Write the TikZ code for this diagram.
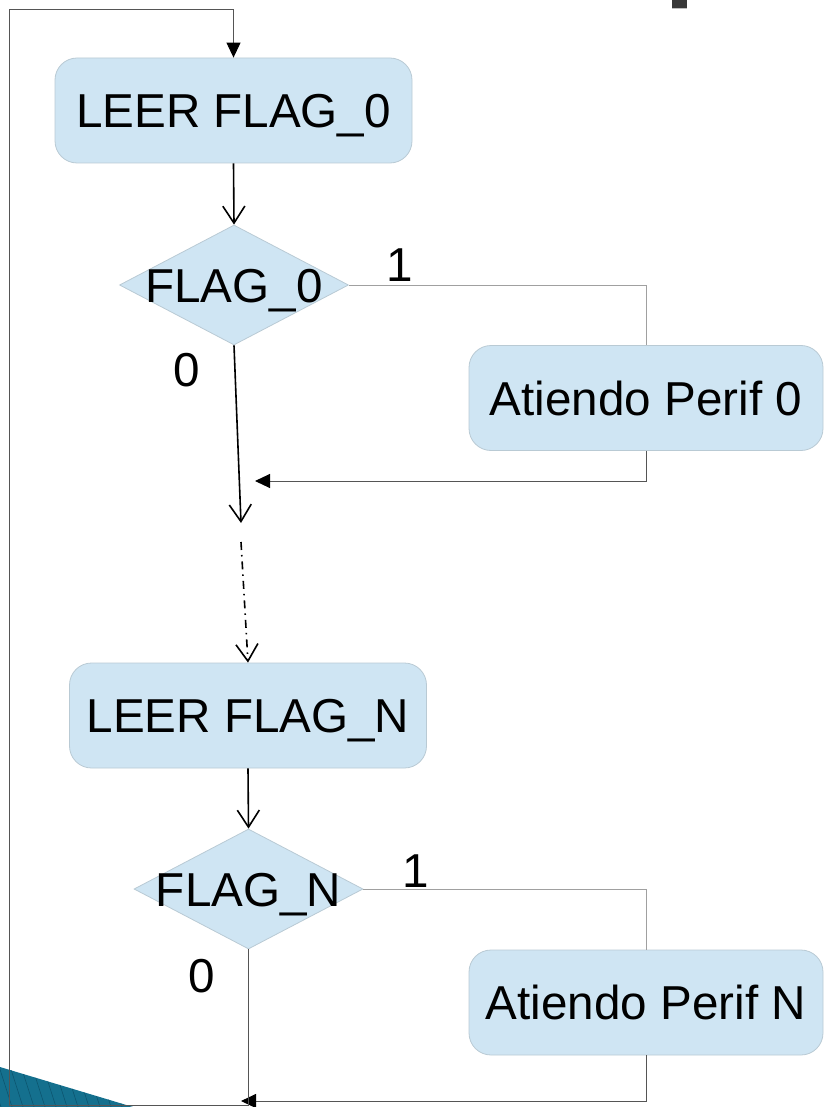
\documentclass[tikz,border=0pt]{standalone}
\usepackage{fontspec}
\setmainfont{Liberation Sans}
\usetikzlibrary{arrows.meta,shapes.geometric}

\definecolor{boxfill}{HTML}{CFE5F3}
\definecolor{boxline}{HTML}{B9CAD4}
\definecolor{wiredark}{HTML}{555555}
\definecolor{wirelight}{HTML}{A0A0A0}
\definecolor{teal}{HTML}{14708E}
\definecolor{tealdark}{HTML}{0C5670}

\tikzset{
  every node/.style={font=\fontsize{47.6}{56}\selectfont, inner sep=0pt},
  procbox/.style={rectangle, rounded corners=22pt, fill=boxfill, draw=boxline,
    line width=0.8pt, minimum width=357pt, minimum height=105pt,
    text height=34pt, text depth=0pt},
  sidebox/.style={procbox, minimum width=354pt},
  decision/.style={diamond, fill=boxfill, draw=boxline, line width=0.8pt,
    minimum width=229pt, minimum height=120pt, aspect=1.9},
  flow/.style={line width=1.6pt, black, -{Straight Barb[width=22pt,length=17pt,line width=1.6pt]}},
  flowdots/.style={flow, dash pattern=on 8pt off 5pt on 1.5pt off 5pt},
  wire/.style={line width=1pt, wiredark},
  wirefaint/.style={line width=1pt, wirelight},
  wirearrow/.style={wire, -{Triangle[width=14pt,length=15pt,color=black]}},
  tag/.style={text height=34pt, text depth=0pt},
}

\begin{document}
\begin{tikzpicture}[x=1pt, y=-1pt]
  \useasboundingbox (0,0) rectangle (823,1107);

  % slide decorations
  \fill[teal] (0,1067) -- (133,1107) -- (0,1107) -- cycle;
  \begin{scope}
    \clip (0,1067) -- (133,1107) -- (0,1107) -- cycle;
    \foreach \i in {0,...,16} {
      \draw[tealdark, line width=0.6pt] (\i*11-14,1060) -- ++(16,50);
    }
  \end{scope}
  \fill[black!78] (672,0) rectangle (687,9);
  \draw[black!25, line width=1pt] (672,9) -- (687,9);

  % peripheral 0
  \node[procbox] (b0) at (233.5,110.5) {LEER FLAG\_0};
  \node[decision] (d0) at (234,285) {};
  \node[tag] (t0) at (d0) {FLAG\_0};
  \node[sidebox] (p0) at (646,398) {Atiendo Perif 0};
  \node[tag] (y0) at (400,264) {1};
  \node[tag] (n0) at (187,369) {0};
  \coordinate (j0) at (255,481);
  \coordinate (a0) at (241,523);

  \draw[flow] (b0.south) -- (d0.north);
  \draw[wirefaint] (d0.east) -| (p0.north);
  \draw[wirearrow] (p0.south) |- (j0);
  \draw[flow] (d0.south) -- (a0);

  % continuation to peripheral N
  \coordinate (c1) at (241,542);
  \node[procbox] (b1) at (248,715.5) {LEER FLAG\_N};
  \draw[flowdots] (c1) -- (b1.north);

  % peripheral N
  \node[decision] (d1) at (248.5,889) {};
  \node[tag] (t1) at (d1) {FLAG\_N};
  \node[sidebox] (p1) at (646,1002.5) {Atiendo Perif N};
  \node[tag] (y1) at (416,870) {1};
  \node[tag] (n1) at (202,975) {0};
  \coordinate (j1) at (241,1101);

  \draw[flow] (b1.south) -- (d1.north);
  \draw[wirefaint] (d1.east) -| (p1.north);
  \draw[wirearrow] (p1.south) |- (j1);

  % return loop to the first read
  \coordinate (lb) at (9,1105);
  \coordinate (lt) at (9,10);
  \draw[wirearrow] (d1.south) |- (lb) -- (lt) -| (b0.north);
\end{tikzpicture}
\end{document}
